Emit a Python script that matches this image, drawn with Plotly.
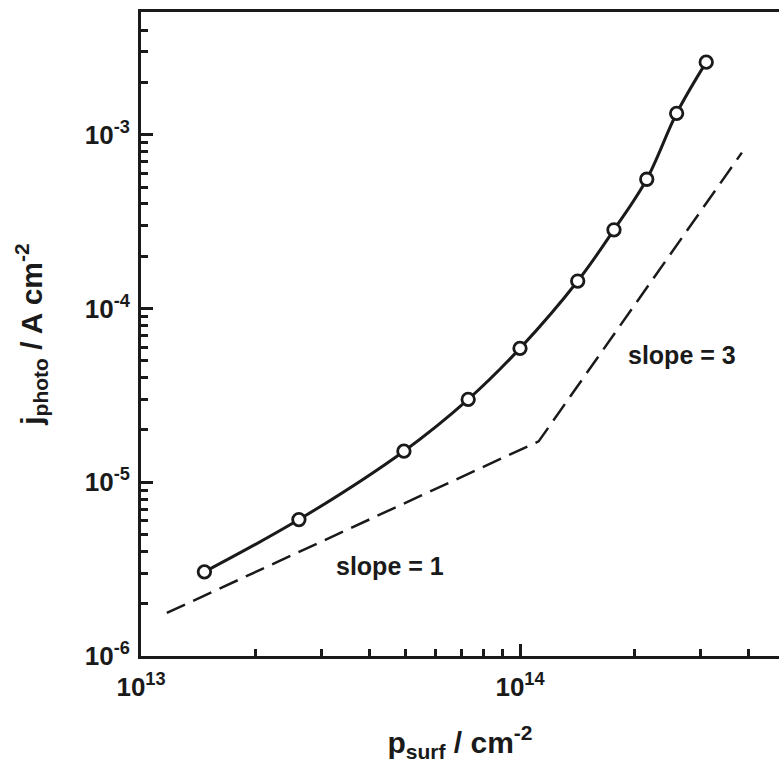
import numpy as np
import plotly.graph_objects as go

# Measured photocurrent vs. surface hole concentration
p_surf = [1.47e13, 2.61e13, 4.94e13, 7.30e13, 1.00e14, 1.42e14, 1.77e14, 2.16e14, 2.59e14, 3.10e14]
j_photo = [3.05e-6, 6.1e-6, 1.51e-5, 3.0e-5, 5.9e-5, 1.44e-4, 2.84e-4, 5.55e-4, 1.33e-3, 2.62e-3]

# Guide line: slope 1 at low p_surf, slope 3 at high p_surf
guide_x = [1.17e13, 1.12e14, 3.85e14]
guide_y = [1.77e-6, 1.72e-5, 7.9e-4]

# Axis tick positions
x_major = [1e13, 1e14]
x_major_text = ["10<sup>13</sup>", "10<sup>14</sup>"]
y_major = [1e-6, 1e-5, 1e-4, 1e-3]
y_major_text = ["10<sup>-6</sup>", "10<sup>-5</sup>", "10<sup>-4</sup>", "10<sup>-3</sup>"]
x_minor = [m * 10**e for e in (13, 14) for m in range(2, 10) if m * 10**e < 4.8e14]
y_minor = [m * 10.0**e for e in (-6, -5, -4, -3) for m in range(2, 10) if m * 10.0**e < 5e-3]

FONT = "Liberation Sans, Arial, sans-serif"
INK = "#1a1a1a"

fig = go.Figure()

fig.add_trace(go.Scatter(
    x=guide_x, y=guide_y, mode="lines",
    line=dict(color=INK, width=2.5, dash="20px,9px"),
    showlegend=False, hoverinfo="skip",
))

fig.add_trace(go.Scatter(
    x=p_surf, y=j_photo, mode="lines+markers",
    line=dict(color=INK, width=3, shape="spline"),
    marker=dict(symbol="circle", size=12.5, color="white",
                line=dict(color=INK, width=2.8)),
    showlegend=False,
))

fig.add_annotation(x=np.log10(4.54e13), y=np.log10(3.3e-6), text="slope = 1",
                   showarrow=False, font=dict(family=FONT, size=25, color=INK, weight="bold"))
fig.add_annotation(x=np.log10(2.67e14), y=np.log10(5.41e-5), text="slope = 3",
                   showarrow=False, font=dict(family=FONT, size=25, color=INK, weight="bold"))

axis_common = dict(
    type="log", showgrid=False, zeroline=False,
    showline=True, linecolor=INK, linewidth=3,
    ticks="inside", ticklen=12, tickwidth=2.5, tickcolor=INK,
    tickfont=dict(family=FONT, size=26, color=INK, weight="bold"),
)

fig.update_xaxes(
    **axis_common,
    range=[13, 13 + 638 / 379], mirror=True,
    tickmode="array", tickvals=x_major, ticktext=x_major_text,
    ticklabelstandoff=6,
    minor=dict(tickmode="array", tickvals=x_minor, ticks="inside",
               ticklen=7, tickwidth=2.5, tickcolor=INK, showgrid=False),
    title=dict(text="p<sub>surf</sub> / cm<sup>-2</sup>",
               font=dict(family=FONT, size=30, color=INK, weight="bold"), standoff=31),
)
fig.update_yaxes(
    **axis_common,
    range=[-6, -2.293], mirror=False,
    tickmode="array", tickvals=y_major, ticktext=y_major_text,
    ticklabelstandoff=3,
    minor=dict(tickmode="array", tickvals=y_minor, ticks="inside",
               ticklen=7, tickwidth=2.5, tickcolor=INK, showgrid=False),
    title=dict(text="j<sub>photo</sub> / A cm<sup>-2</sup>",
               font=dict(family=FONT, size=30, color=INK, weight="bold"), standoff=34),
)

fig.update_layout(
    width=779, height=769,
    margin=dict(l=141, r=0, t=12, b=113, autoexpand=False),
    paper_bgcolor="white", plot_bgcolor="white",
)

fig.write_html("out.html")
